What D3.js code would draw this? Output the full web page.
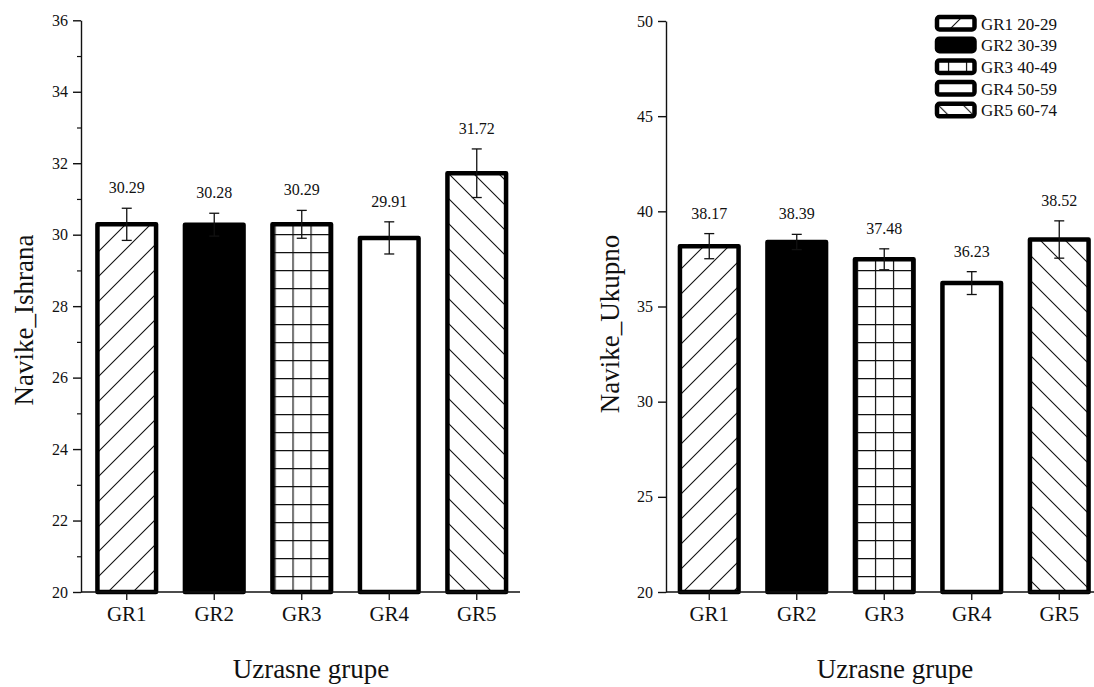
<!DOCTYPE html>
<html>
<head>
<meta charset="utf-8">
<script src="https://cdn.jsdelivr.net/npm/d3@7"></script>
<style>
    body { margin: 0; background: #fff; }
    text { font-family: "Liberation Serif", "Times New Roman", serif; fill: #111; }
</style>
</head>
<body>
<div id="chart"></div>
<script>
// Data
const categories = ['GR1', 'GR2', 'GR3', 'GR4', 'GR5'];
const legendLabels = ['GR1 20-29', 'GR2 30-39', 'GR3 40-49', 'GR4 50-59', 'GR5 60-74'];

const ishranaValues = [30.29, 30.28, 30.29, 29.91, 31.72];
const ishranaErrors = [0.45, 0.32, 0.39, 0.45, 0.68];
const ishranaTicks = [20, 22, 24, 26, 28, 30, 32, 34, 36];
const ishranaMinor = [21, 23, 25, 27, 29, 31, 33, 35];

const ukupnoValues = [38.17, 38.39, 37.48, 36.23, 38.52];
const ukupnoErrors = [0.66, 0.40, 0.55, 0.60, 0.98];
const ukupnoTicks = [20, 25, 30, 35, 40, 45, 50];

// fill style for each group
const fillKinds = ['slash', 'solid', 'grid', 'white', 'backslash'];

const width = 1094, height = 687;

const svg = d3.select("#chart")
    .append("svg")
    .attr("width", width)
    .attr("height", height);

const defs = svg.append("defs");

function makePatterns(prefix, gridX) {
    const slash = defs.append("pattern")
        .attr("id", prefix + "-slash")
        .attr("patternUnits", "userSpaceOnUse")
        .attr("width", 25).attr("height", 25);
    slash.append("rect").attr("width", 25).attr("height", 25).attr("fill", "#fff");
    slash.append("path")
        .attr("d", "M0,25 L25,0 M-5,5 L5,-5 M20,30 L30,20")
        .attr("stroke", "#111").attr("stroke-width", 1.1);

    const back = defs.append("pattern")
        .attr("id", prefix + "-backslash")
        .attr("patternUnits", "userSpaceOnUse")
        .attr("width", 25).attr("height", 25);
    back.append("rect").attr("width", 25).attr("height", 25).attr("fill", "#fff");
    back.append("path")
        .attr("d", "M0,0 L25,25 M-5,20 L5,30 M20,-5 L30,5")
        .attr("stroke", "#111").attr("stroke-width", 1.1);

    const grid = defs.append("pattern")
        .attr("id", prefix + "-grid")
        .attr("patternUnits", "userSpaceOnUse")
        .attr("x", gridX)
        .attr("width", 18).attr("height", 18);
    grid.append("rect").attr("width", 18).attr("height", 18).attr("fill", "#fff");
    grid.append("path")
        .attr("d", "M0,0.6 H18 M0.6,0 V18")
        .attr("stroke", "#111").attr("stroke-width", 1.2);
}

function fillFor(prefix, kind) {
    if (kind === 'solid') return "#000";
    if (kind === 'white') return "#fff";
    return `url(#${prefix}-${kind})`;
}

function drawPanel(p) {
    const g = svg.append("g");

    const x = d3.scaleBand()
        .domain(categories)
        .range(p.xRange)
        .paddingInner(0.33)
        .paddingOuter(0.165);

    const y = d3.scaleLinear()
        .domain(p.yDomain)
        .range(p.yRange);

    makePatterns(p.id, x('GR3') + 2);

    const rows = categories.map((c, i) => ({
        cat: c,
        value: p.values[i],
        err: p.errors[i],
        kind: fillKinds[i]
    }));

    // bars
    g.selectAll(".bar")
        .data(rows)
        .enter()
        .append("rect")
        .attr("class", "bar")
        .attr("x", d => x(d.cat))
        .attr("y", d => y(d.value))
        .attr("width", x.bandwidth())
        .attr("height", d => y(p.yDomain[0]) - y(d.value))
        .attr("fill", d => fillFor(p.id, d.kind))
        .attr("stroke", "#000")
        .attr("stroke-width", 4.5)
        .attr("stroke-linejoin", "round");

    // error bars
    const eb = g.selectAll(".err")
        .data(rows)
        .enter()
        .append("g")
        .attr("class", "err")
        .attr("stroke", "#111")
        .attr("stroke-width", 1.3);
    eb.append("line")
        .attr("x1", d => x(d.cat) + x.bandwidth() / 2)
        .attr("x2", d => x(d.cat) + x.bandwidth() / 2)
        .attr("y1", d => y(d.value - d.err))
        .attr("y2", d => y(d.value + d.err));
    eb.append("line")
        .attr("x1", d => x(d.cat) + x.bandwidth() / 2 - 5)
        .attr("x2", d => x(d.cat) + x.bandwidth() / 2 + 5)
        .attr("y1", d => y(d.value + d.err))
        .attr("y2", d => y(d.value + d.err));
    eb.append("line")
        .attr("x1", d => x(d.cat) + x.bandwidth() / 2 - 5)
        .attr("x2", d => x(d.cat) + x.bandwidth() / 2 + 5)
        .attr("y1", d => y(d.value - d.err))
        .attr("y2", d => y(d.value - d.err));

    // value labels
    g.selectAll(".value-label")
        .data(rows)
        .enter()
        .append("text")
        .attr("class", "value-label")
        .attr("x", d => x(d.cat) + x.bandwidth() / 2)
        .attr("y", d => y(d.value + d.err) - 15)
        .attr("text-anchor", "middle")
        .attr("font-size", "16px")
        .text(d => d.value.toFixed(2));

    // y axis
    const yAxis = g.append("g")
        .attr("transform", `translate(${p.axisX},0)`)
        .call(d3.axisLeft(y).tickValues(p.ticks).tickSize(8).tickSizeOuter(0).tickPadding(5));
    yAxis.select(".domain").attr("stroke", "#111").attr("stroke-width", 1.4);
    yAxis.selectAll(".tick line").attr("stroke", "#111").attr("stroke-width", 1.4);
    yAxis.selectAll("text")
        .attr("font-size", "16px")
        .attr("font-family", "Liberation Serif, serif")
        .attr("fill", "#111");

    if (p.minor) {
        const minorAxis = g.append("g")
            .attr("transform", `translate(${p.axisX},0)`)
            .call(d3.axisLeft(y).tickValues(p.minor).tickSize(4).tickFormat(""));
        minorAxis.select(".domain").remove();
        minorAxis.selectAll(".tick line").attr("stroke", "#111").attr("stroke-width", 1.2);
    }

    // x axis
    const xAxis = g.append("g")
        .attr("transform", `translate(0,${y(p.yDomain[0])})`)
        .call(d3.axisBottom(x).tickSize(8).tickSizeOuter(0).tickPadding(6));
    xAxis.select(".domain").remove();
    xAxis.selectAll(".tick line").attr("stroke", "#111").attr("stroke-width", 1.3);
    xAxis.selectAll("text")
        .attr("font-size", "21px")
        .attr("font-family", "Liberation Serif, serif")
        .attr("fill", "#111");

    g.append("line")
        .attr("x1", p.axisX)
        .attr("x2", p.xLineEnd)
        .attr("y1", y(p.yDomain[0]))
        .attr("y2", y(p.yDomain[0]))
        .attr("stroke", "#111")
        .attr("stroke-width", 1.4);

    // titles
    g.append("text")
        .attr("transform", `translate(${p.yTitlePos[0]},${p.yTitlePos[1]}) rotate(-90)`)
        .attr("text-anchor", "middle")
        .attr("font-size", "27px")
        .text(p.yTitle);

    g.append("text")
        .attr("x", p.xTitlePos[0])
        .attr("y", p.xTitlePos[1])
        .attr("text-anchor", "middle")
        .attr("font-size", "27px")
        .text("Uzrasne grupe");

    return { x, y };
}

drawPanel({
    id: "left",
    xRange: [83, 520.5],
    yDomain: [20, 36],
    yRange: [592, 20.3],
    axisX: 81,
    xLineEnd: 520,
    ticks: ishranaTicks,
    minor: ishranaMinor,
    values: ishranaValues,
    errors: ishranaErrors,
    yTitle: "Navike_Ishrana",
    yTitlePos: [33, 320],
    xTitlePos: [311, 678]
});

drawPanel({
    id: "right",
    xRange: [665.5, 1103],
    yDomain: [20, 50],
    yRange: [592, 21],
    axisX: 666,
    xLineEnd: 1094,
    ticks: ukupnoTicks,
    minor: null,
    values: ukupnoValues,
    errors: ukupnoErrors,
    yTitle: "Navike_Ukupno",
    yTitlePos: [619, 324],
    xTitlePos: [895, 678]
});

// Legend
const legend = svg.append("g")
    .attr("transform", "translate(937,17)");

const items = legend.selectAll(".legend-item")
    .data(legendLabels)
    .enter()
    .append("g")
    .attr("class", "legend-item")
    .attr("transform", (d, i) => `translate(0,${i * 21.7})`);

items.append("rect")
    .attr("width", 37.5)
    .attr("height", 12.5)
    .attr("rx", 2.5)
    .attr("fill", (d, i) => fillFor("right", fillKinds[i]))
    .attr("stroke", "#000")
    .attr("stroke-width", 4.5);

items.append("text")
    .attr("x", 44)
    .attr("y", 12.5)
    .attr("font-size", "17px")
    .text(d => d);
</script>
</body>
</html>
